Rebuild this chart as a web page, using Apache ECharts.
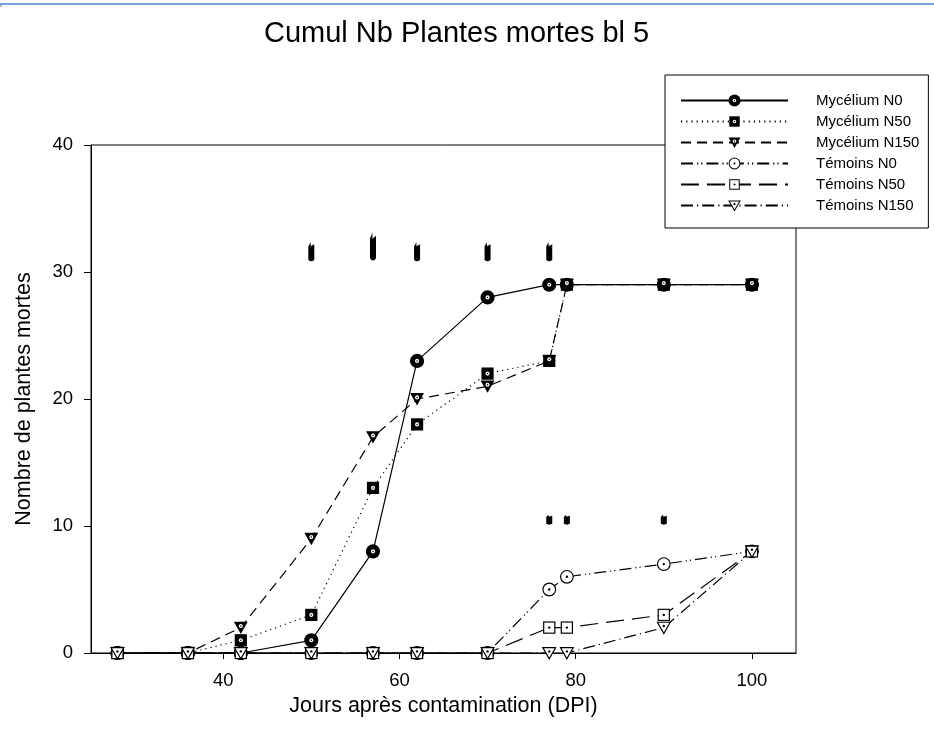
<!DOCTYPE html>
<html>
<head>
<meta charset="utf-8">
<title>Cumul Nb Plantes mortes bl 5</title>
<style>
  html, body { margin: 0; padding: 0; background: #fff; }
  #main { width: 934px; height: 736px; }
</style>
</head>
<body>
<div id="main"></div>
<script src="https://cdn.jsdelivr.net/npm/echarts@6/dist/echarts.min.js"></script>
<script>
// jours après contamination
var jours = [28, 36, 42, 50, 57, 62, 70, 77, 79, 90, 100];
var myceliumN0   = [0, 0, 0, 1, 8, 23, 28, 29, 29, 29, 29];
var myceliumN50  = [0, 0, 1, 3, 13, 18, 22, 23, 29, 29, 29];
var myceliumN150 = [0, 0, 2, 9, 17, 20, 21, 23, 29, 29, 29];
var temoinsN0    = [0, 0, 0, 0, 0, 0, 0, 5, 6, 7, 8];
var temoinsN50   = [0, 0, 0, 0, 0, 0, 0, 2, 2, 3, 8];
var temoinsN150  = [0, 0, 0, 0, 0, 0, 0, 0, 0, 2, 8];
var xTicks = [40, 60, 80, 100];
// petites marques au-dessus des courbes
var marquesHautX = [50, 57, 62, 70, 77];
var marquesHautY = [31.6, 32, 31.6, 31.6, 31.6];
var marquesBasX = [77, 79, 90];
var marquesBasY = [10.5, 10.5, 10.5];

function svgSymbol(body) {
  var svg = "<svg xmlns='http://www.w3.org/2000/svg' width='28' height='28' viewBox='0 0 14 14'>" + body + "</svg>";
  return 'image://data:image/svg+xml;charset=utf-8,' + encodeURIComponent(svg);
}
var symRondPlein = svgSymbol("<circle cx='7' cy='7' r='6.6' fill='#000'/><circle cx='7' cy='7' r='1.9' fill='#fff'/><circle cx='7' cy='7' r='0.7' fill='#000'/>");
var symCarrePlein = svgSymbol("<rect x='1.3' y='1.3' width='11.4' height='11.4' fill='#000'/><circle cx='7' cy='7' r='1.9' fill='#fff'/><circle cx='7' cy='7' r='0.7' fill='#000'/>");
var symTriPlein = svgSymbol("<polygon points='0.5,1.5 13.5,1.5 7,13' fill='#000'/><circle cx='7' cy='5.5' r='1.9' fill='#fff'/><circle cx='7' cy='5.5' r='0.7' fill='#000'/>");
var symRondVide = svgSymbol("<circle cx='7' cy='7' r='5.9' fill='#fff' stroke='#000' stroke-width='1.1'/><circle cx='7' cy='7' r='1.1' fill='#000'/>");
var symCarreVide = svgSymbol("<rect x='1.8' y='1.8' width='10.4' height='10.4' fill='#fff' stroke='#000' stroke-width='1.1'/><circle cx='7' cy='7' r='1.1' fill='#000'/>");
var symTriVide = svgSymbol("<polygon points='1,2 13,2 7,12.5' fill='#fff' stroke='#000' stroke-width='1.1' stroke-linejoin='miter'/><circle cx='7' cy='5.5' r='1.1' fill='#000'/>");

var police = 'Liberation Sans, Arial, sans-serif';

function serie(nom, valeurs, symbole, tirets) {
  return {
    name: nom,
    type: 'line',
    data: jours.map(function (j, i) { return [j, valeurs[i]]; }),
    symbol: symbole,
    symbolSize: 15,
    showAllSymbol: true,
    lineStyle: { color: '#000', width: 1.2, type: tirets },
    itemStyle: { color: '#000' },
    emphasis: { disabled: true },
    z: 3
  };
}

var marque = 'path://M0,4 L2,0 L2,4 L5,2 L5,17 Q2.5,20 0,17 Z';

var myChart = echarts.init(document.getElementById('main'));
myChart.setOption({
  animation: false,
  backgroundColor: '#fff',
  title: {
    text: 'Cumul Nb Plantes mortes bl 5',
    left: 259,
    top: 14,
    textStyle: { fontFamily: police, fontSize: 29, fontWeight: 'normal', color: '#000' }
  },
  graphic: [
    { type: 'line', shape: { x1: 0, y1: 4, x2: 934, y2: 4 }, style: { stroke: '#4a86c8', lineWidth: 1.5 } },
    { type: 'line', shape: { x1: 1, y1: 4, x2: 1, y2: 7 }, style: { stroke: '#4a86c8', lineWidth: 1 } }
  ],
  legend: {
    orient: 'vertical',
    left: 665,
    top: 75,
    padding: [18, 9, 15, 15],
    itemWidth: 107,
    itemHeight: 16,
    itemGap: 6,
    backgroundColor: '#fff',
    borderColor: '#000',
    borderWidth: 1,
    borderRadius: 0,
    selectedMode: false,
    z: 10,
    data: ['Mycélium N0', 'Mycélium N50', 'Mycélium N150', 'Témoins N0', 'Témoins N50', 'Témoins N150'],
    formatter: '{t|{name}}',
    textStyle: {
      fontFamily: police, fontSize: 15, color: '#000',
      rich: { t: { padding: [0, 0, 0, 23], fontFamily: police, fontSize: 15, color: '#000' } }
    }
  },
  grid: {
    left: 91, right: 138, top: 145, bottom: 83,
    show: true, borderColor: '#000', borderWidth: 1,
    outerBoundsMode: 'none'
  },
  xAxis: {
    type: 'value',
    min: 25,
    max: 105,
    name: 'Jours après contamination (DPI)',
    nameLocation: 'middle',
    nameGap: 31,
    nameTextStyle: { fontFamily: police, fontSize: 21.5, color: '#000' },
    axisLine: { lineStyle: { color: '#000', width: 1 } },
    axisTick: { customValues: xTicks, length: 6, lineStyle: { color: '#000' } },
    axisLabel: { customValues: xTicks, fontFamily: police, fontSize: 18.5, color: '#000', margin: 18 },
    splitLine: { show: false }
  },
  yAxis: {
    type: 'value',
    min: 0,
    max: 40,
    interval: 10,
    name: 'Nombre de plantes mortes',
    nameLocation: 'middle',
    nameGap: 56,
    nameTextStyle: { fontFamily: police, fontSize: 21.5, color: '#000' },
    axisLine: { show: true, lineStyle: { color: '#000', width: 1 } },
    axisTick: { show: true, length: 7, lineStyle: { color: '#000' } },
    axisLabel: { fontFamily: police, fontSize: 18.5, color: '#000', margin: 18 },
    splitLine: { show: false }
  },
  series: [
    serie('Mycélium N0', myceliumN0, symRondPlein, 'solid'),
    serie('Mycélium N50', myceliumN50, symCarrePlein, [1.2, 4]),
    serie('Mycélium N150', myceliumN150, symTriPlein, [10, 6]),
    serie('Témoins N0', temoinsN0, symRondVide, [12, 4, 1.2, 3, 1.2, 4]),
    serie('Témoins N50', temoinsN50, symCarreVide, [18, 8]),
    serie('Témoins N150', temoinsN150, symTriVide, [12, 4, 1.2, 4]),
    {
      type: 'scatter',
      silent: true,
      symbol: marque,
      symbolSize: function (v, p) { return p.dataIndex === 1 ? [6, 28] : [6, 19]; },
      itemStyle: { color: '#000', opacity: 1 },
      data: marquesHautX.map(function (x, i) { return [x, marquesHautY[i]]; })
    },
    {
      type: 'scatter',
      silent: true,
      symbol: marque,
      symbolSize: [6, 10],
      itemStyle: { color: '#000', opacity: 1 },
      data: marquesBasX.map(function (x, i) { return [x, marquesBasY[i]]; })
    }
  ]
});
</script>
</body>
</html>
